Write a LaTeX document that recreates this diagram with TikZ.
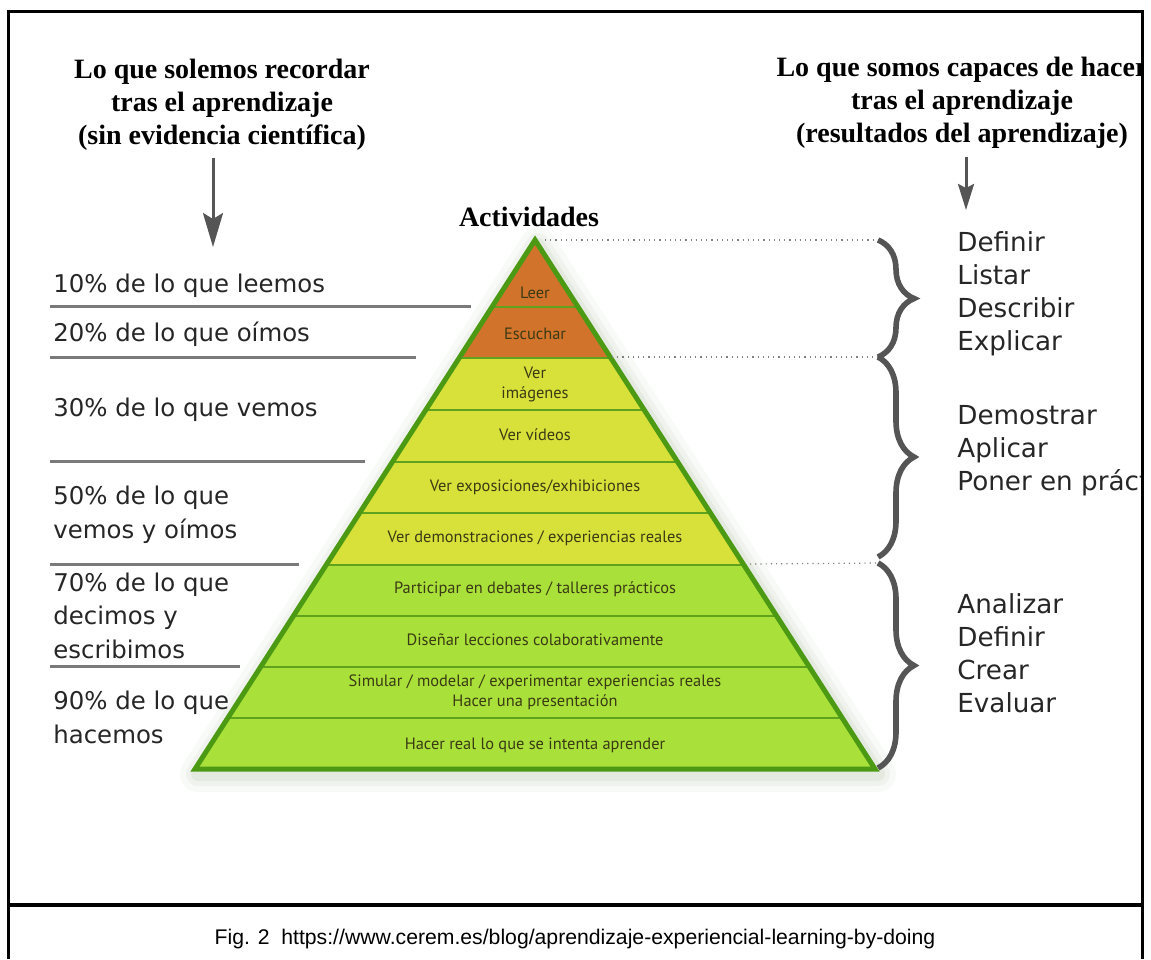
\documentclass[tikz,border=0pt]{standalone}
\usepackage{fontspec}
\setmainfont{Liberation Serif}
\newfontfamily\labelfont{DejaVu Sans}
\newfontfamily\layerfont{PT Sans}
\newfontfamily\capfont{Liberation Sans}
\usepackage{xcolor}
\usetikzlibrary{arrows.meta,decorations.pathreplacing}

\definecolor{layerorange}{HTML}{D2732B}
\definecolor{layeryellow}{HTML}{D8E03A}
\definecolor{layergreen}{HTML}{A9E03A}
\definecolor{rimgreen}{HTML}{4C9A14}
\definecolor{bandline}{HTML}{5EA21E}
\definecolor{glowgreen}{HTML}{7E9A6A}
\definecolor{rulegray}{HTML}{7A7A7A}
\definecolor{bracegray}{HTML}{555555}
\definecolor{layertext}{HTML}{3A3A14}

\begin{document}
\begin{tikzpicture}[x=0.5pt,y=-0.5pt,
    heading/.style={font=\fontsize{14}{16.5}\selectfont\bfseries, align=center, inner sep=0pt},
    pct/.style={font=\labelfont\fontsize{12.2}{16.6}\selectfont, align=left, anchor=base west, inner sep=0pt, text=black!85},
    verb/.style={font=\labelfont\fontsize{13.1}{16.5}\selectfont, align=left, anchor=base west, inner sep=0pt, text=black!85},
    layer/.style={font=\layerfont\fontsize{8.2}{10}\selectfont, text=layertext, align=center, inner sep=0pt},
    rule/.style={rulegray, line width=1.5pt},
    bracket/.style={bracegray, line width=2.8pt, decorate, decoration={brace, amplitude=18pt}},
    guide/.style={gray, dotted, line width=0.6pt},
    pointer/.style={bracegray, line width=1.5pt, -{Stealth[length=17pt, width=10pt, inset=3pt]}}
  ]
  \useasboundingbox (0,0) rectangle (1151,959);

  % pyramid corners
  \coordinate (apex) at (535,240);
  \coordinate (bl) at (195,769);
  \coordinate (br) at (875,769);

  % soft glow round the pyramid
  \foreach \w/\o in {18/0.05, 12/0.07, 7/0.10}
    \draw[glowgreen, line width=\w pt, opacity=\o, line join=round]
      ([shift={(3,5)}]apex) -- ([shift={(3,5)}]bl) -- ([shift={(3,5)}]br) -- cycle;

  \begin{scope}
    \clip (apex) -- (bl) -- (br) -- cycle;
    \fill[layerorange] (150,230) rectangle (900,358);
    \fill[layeryellow] (150,358) rectangle (900,565);
    \fill[layergreen] (150,565) rectangle (900,780);
    \foreach \y in {307,358,410,462,513,565,616,667,718}
      \draw[bandline, line width=1pt] (150,\y) -- (900,\y);
  \end{scope}
  \draw[rimgreen, line width=2.5pt] (apex) -- (bl) -- (br) -- cycle;

  % activities
  \node[heading, anchor=base] (act) at (529,226) {Actividades};
  \node[layer] (leer) at (535,293) {Leer};
  \node[layer] (escuchar) at (535,334) {Escuchar};
  \node[layer] (imagenes) at (535,384) {Ver\\imágenes};
  \node[layer] (videos) at (535,435) {Ver vídeos};
  \node[layer] (expos) at (535,487) {Ver exposiciones/exhibiciones};
  \node[layer] (demos) at (535,538) {Ver demonstraciones / experiencias reales};
  \node[layer] (debates) at (535,589) {Participar en debates / talleres prácticos};
  \node[layer] (disenar) at (535,640) {Diseñar lecciones colaborativamente};
  \node[layer] (simular) at (535,692) {Simular / modelar / experimentar experiencias reales\\Hacer una presentación};
  \node[layer] (hacer) at (535,745) {Hacer real lo que se intenta aprender};

  % left side
  \node[heading] (recordar) at (222,105) {Lo que solemos recordar\\tras el aprendizaje\\(sin evidencia científica)};
  \coordinate (la1) at (213,158);
  \coordinate (la2) at (213,247);
  \draw[pointer] (la1) -- (la2);

  % base = baseline of the last line
  \node[pct] (p10) at (53,292) {10\% de lo que leemos};
  \node[pct] (p20) at (53,341) {20\% de lo que oímos};
  \node[pct] (p30) at (53,416) {30\% de lo que vemos};
  \node[pct] (p50) at (53,538) {50\% de lo que\\vemos y oímos};
  \node[pct] (p70) at (53,658) {70\% de lo que\\decimos y\\escribimos};
  \node[pct] (p90) at (53,743) {90\% de lo que\\hacemos};
  \draw[rule] (50,306) -- (471,306);
  \draw[rule] (50,357) -- (416,357);
  \draw[rule] (50,461) -- (365,461);
  \draw[rule] (50,564) -- (299,564);
  \draw[rule] (50,666) -- (240,666);

  % right side
  \coordinate (b1t) at (878,240);
  \coordinate (b1b) at (878,357);
  \coordinate (b2t) at (878,357);
  \coordinate (b2b) at (878,557);
  \coordinate (b3t) at (878,563);
  \coordinate (b3b) at (878,768);
  \draw[guide] ([xshift=5]apex) -- (b1t);
  \draw[guide] (612,357) -- (b1b);
  \draw[guide] (750,564) -- (b3t);
  \draw[bracket] (b1t) -- (b1b);
  \draw[bracket] (b2t) -- (b2b);
  \draw[bracket] (b3t) -- (b3b);

  \begin{scope}
    \clip (0,0) rectangle (1141,959);
    \node[heading] (capaces) at (962,103) {Lo que somos capaces de hacer\\tras el aprendizaje\\(resultados del aprendizaje)};
    \node[verb] (v1) at (957,350) {Definir\\Listar\\Describir\\Explicar};
    \node[verb] (v2) at (957,490) {Demostrar\\Aplicar\\Poner en práctica};
    \node[verb] (v3) at (957,712) {Analizar\\Definir\\Crear\\Evaluar};
  \end{scope}
  \coordinate (ra1) at (966,157);
  \coordinate (ra2) at (966,210);
  \draw[pointer, -{Stealth[length=13pt, width=8pt, inset=2pt]}] (ra1) -- (ra2);

  % frame and caption
  \draw[line width=1.75pt] (8.5,959) -- (8.5,11.5) -- (1142.5,11.5) -- (1142.5,959);
  \draw[line width=1.75pt] (8.5,905) -- (1142.5,905);
  \node[font=\capfont\fontsize{10.6}{12}\selectfont, anchor=base] (caption) at (575,944)
    {Fig. 2\ \ https://www.cerem.es/blog/aprendizaje-experiencial-learning-by-doing};
\end{tikzpicture}
\end{document}
